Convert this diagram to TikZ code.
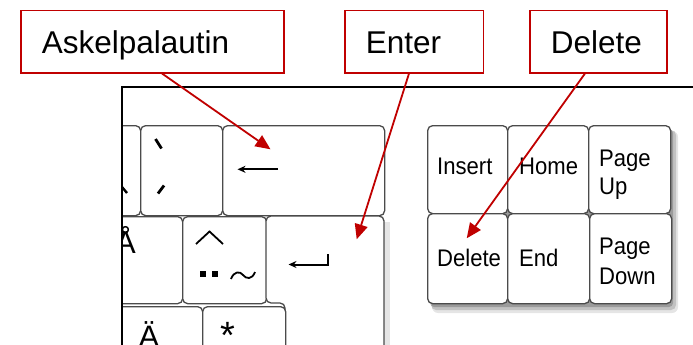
\documentclass[tikz,border=0pt]{standalone}
\usepackage{fontspec}
\setmainfont{Liberation Sans}
\usepackage{graphicx}
\usetikzlibrary{arrows.meta,calc}
\definecolor{callred}{RGB}{192,0,0}
\definecolor{keyline}{RGB}{75,75,75}
\newcommand{\keylbl}[1]{\scalebox{0.92}[1]{#1}}
\begin{document}
\begin{tikzpicture}[x=1pt,y=-1pt,
  callout/.style={draw=callred,line width=1.5pt,fill=white,rectangle,anchor=north west,
    inner xsep=21pt,inner ysep=0pt,minimum height=62pt,text height=27pt,text depth=3pt,
    font=\fontsize{31.5}{37}\selectfont},
  pointer/.style={draw=callred,line width=1.8pt,-{Triangle[length=15pt,width=13pt]}},
  keybox/.style={draw=keyline,line width=1.3pt,fill=white,rounded corners=5pt,rectangle,
    anchor=north west,inner sep=0pt},
  keytext/.style={font=\fontsize{24}{29}\selectfont,anchor=base west,inner sep=0pt},
  bigglyph/.style={font=\fontsize{31}{37}\selectfont,inner sep=0pt},
  symline/.style={line width=2pt,black},
  frameline/.style={line width=2pt,black}
]
\useasboundingbox (0,0) rectangle (693,345);
\fill[white] (0,0) rectangle (693,345);

% ---------- left keyboard part (clipped by frame) ----------
\begin{scope}
\clip (122,87) rectangle (693,350);
\fill[black,opacity=0.10] (384,222) rectangle (390,350);
\node[keybox,minimum width=40pt,minimum height=90pt] (k1) at (100,125) {};
\node[keybox,minimum width=82pt,minimum height=90pt] (kgrave) at (140,125) {};
\node[keybox,minimum width=162pt,minimum height=90pt] (kback) at (222,125) {};
\node[keybox,minimum width=82pt,minimum height=87pt] (kaa) at (100,216) {};
\node[keybox,minimum width=84pt,minimum height=87pt] (kcaret) at (182,216) {};
\draw[draw=keyline,line width=1.3pt,fill=white,rounded corners=5pt]
  (266,216) -- (384,216) -- (384,370) -- (285,370) -- (285,303) -- (266,303) -- cycle;
\node[keybox,minimum width=102pt,minimum height=60pt] (kae) at (100,306) {};
\node[keybox,minimum width=83pt,minimum height=60pt] (kstar) at (202,306) {};
% glyphs
\draw[symline,line width=2.4pt] (122,187) -- (127,193);
\draw[symline,line width=2.8pt] (155.5,139) -- (161.5,148.5);
\draw[symline,line width=2.8pt] (158,193.5) -- (164,185.5);
\draw[symline,-{Stealth[length=8pt,width=7pt]}] (278,169.3) -- (237.5,169.3);
\node[bigglyph,anchor=base east] (taa) at (136,253) {Å};
\draw[line width=1.8pt] (196,244) -- (209.5,231.5) -- (223,244);
\fill (200,271) rectangle (205.5,276.5);
\fill (212,271) rectangle (217.5,276.5);
\draw[line width=1.8pt] (231,279) .. controls (234,271) and (240,271) .. (243,275)
  .. controls (246,279) and (252,280) .. (255,272);
\draw[symline,-{Stealth[length=8pt,width=7pt]}] (328,254) -- (328,264.5) -- (288.5,264.5);
\node[bigglyph,anchor=base] (tae) at (149,347) {Ä};
\node[font=\fontsize{38}{44}\selectfont,inner sep=0pt,anchor=base] (tstar) at (228,332)
  {\raisebox{-16.3pt}[11pt][0pt]{*}};
\end{scope}
\draw[frameline] (122,345) -- (122,87) -- (693,87);

% ---------- right key block ----------
\fill[black,opacity=0.10,rounded corners=6pt] (432,131) rectangle (678,313);
\fill[black,opacity=0.15,rounded corners=5pt] (431,130) rectangle (676,310);
\fill[black,opacity=0.20,rounded corners=4pt] (430,129) rectangle (673,307);
\node[keybox,minimum width=80pt,minimum height=88pt] (kins) at (427,125) {};
\node[keybox,minimum width=81pt,minimum height=88pt] (khome) at (507,125) {};
\node[keybox,minimum width=82pt,minimum height=88pt] (kpgup) at (588,125) {};
\node[keybox,minimum width=80pt,minimum height=90pt] (kdel) at (427,213) {};
\node[keybox,minimum width=82pt,minimum height=90pt] (kend) at (507,213) {};
\node[keybox,minimum width=82pt,minimum height=90pt] (kpgdn) at (589,213) {};
\node[keytext] (tins) at (437,174) {\keylbl{Insert}};
\node[keytext] (thome) at (519,174) {\keylbl{Home}};
\node[keytext] (tpgup1) at (599,166) {\keylbl{Page}};
\node[keytext] (tpgup2) at (599,194) {\keylbl{Up}};
\node[keytext] (tdel) at (437,266) {\keylbl{Delete}};
\node[keytext] (tend) at (519,266) {\keylbl{End}};
\node[keytext] (tpgdn1) at (599,254) {\keylbl{Page}};
\node[keytext] (tpgdn2) at (599,284) {\keylbl{Down}};

% ---------- callouts ----------
\node[callout] (askel) at (20,10) {\makebox[221pt][l]{Askelpalautin}};
\node[callout] (enter) at (344,10) {\makebox[96.7pt][l]{Enter}};
\node[callout] (delete) at (529,10) {\makebox[95pt][l]{Delete}};

\coordinate (askeltip) at (270.5,149.3);
\coordinate (entertip) at (356.7,239.3);
\coordinate (deletetip) at (466.7,238.3);
\draw[pointer] ([xshift=142pt]askel.south west) -- (askeltip);
\draw[pointer] ([xshift=65pt]enter.south west) -- (entertip);
\draw[pointer] ([xshift=56pt]delete.south west) -- (deletetip);
\end{tikzpicture}
\end{document}
